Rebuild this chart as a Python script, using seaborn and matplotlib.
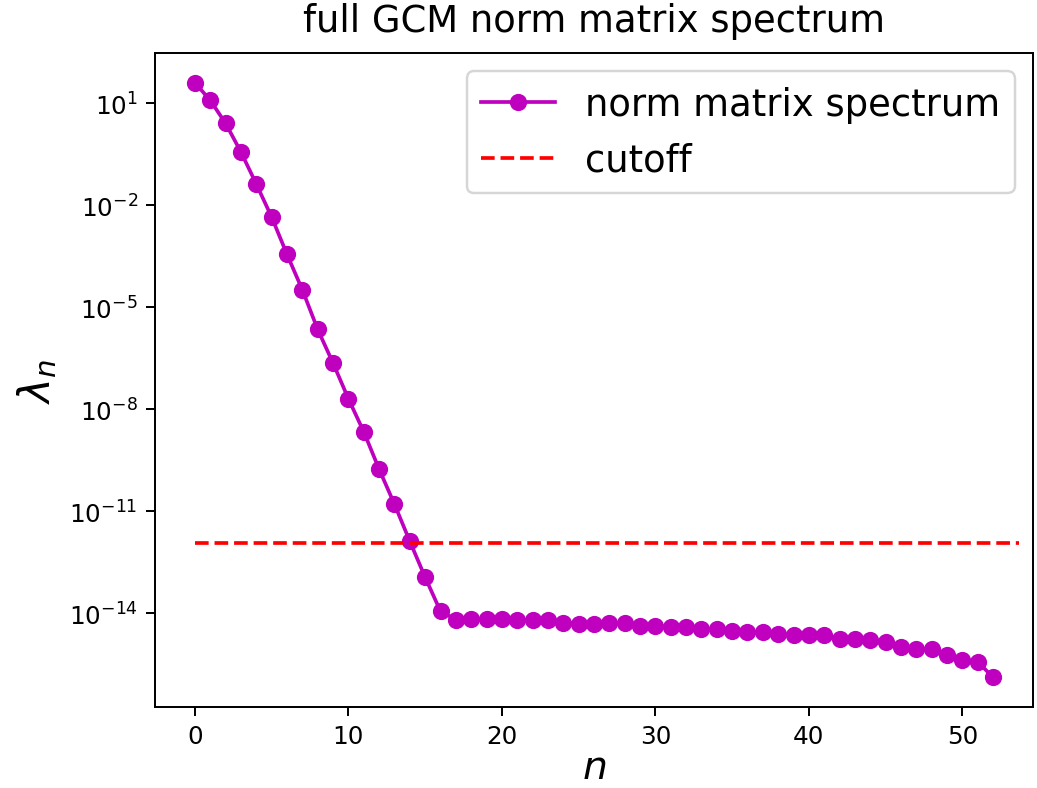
import numpy as np
import pandas as pd
import matplotlib
matplotlib.use("Agg")
import matplotlib.pyplot as plt
import matplotlib.ticker as mticker
import seaborn as sns

# log10 of eigenvalues
n_index = list(range(53))
log_lambda = [
    1.606, 1.088, 0.411, -0.433, -1.375, -2.346, -3.444, -4.485,
    -5.65, -6.64, -7.69, -8.66, -9.76, -10.79, -11.88, -12.94, -13.94,
    -14.185, -14.157, -14.157, -14.157, -14.204, -14.204, -14.204, -14.27,
    -14.317, -14.317, -14.298, -14.298, -14.364, -14.364, -14.411, -14.392,
    -14.458, -14.458, -14.505, -14.552, -14.552, -14.599, -14.646, -14.646,
    -14.627, -14.74, -14.769, -14.788, -14.835, -15.004, -15.051, -15.051,
    -15.211, -15.362, -15.428, -15.88,
]
eigenvalues = [10.0 ** v for v in log_lambda]
cutoff_x = [0, 53.7]
cutoff_y = [1.2e-12, 1.2e-12]
ytick_values = [1e1, 1e-2, 1e-5, 1e-8, 1e-11, 1e-14]

W, H, DPI = 1037, 789, 177
fig = plt.figure(figsize=(W / DPI, H / DPI), dpi=DPI)
ax = fig.add_axes([155 / W, 1 - 708 / H, 878 / W, 654 / H])

df = pd.DataFrame({"n": n_index, "lam": eigenvalues})
sns.lineplot(data=df, x="n", y="lam", ax=ax, color="m", marker="o",
             markersize=6, markeredgecolor="m", markeredgewidth=1.0,
             linewidth=1.5, label="norm matrix spectrum")
cdf = pd.DataFrame({"n": cutoff_x, "c": cutoff_y})
sns.lineplot(data=cdf, x="n", y="c", ax=ax, color="r", linestyle="--",
             linewidth=1.5, label="cutoff")

ax.set_yscale("log")
ax.set_yticks(ytick_values)
ax.yaxis.set_minor_locator(mticker.NullLocator())
ax.set_xlim(-2.6, 54.6)
ax.set_xlabel("$n$", fontsize=16, labelpad=0)
ax.set_ylabel(r"$\lambda_n$", fontsize=17)
ax.set_title("full GCM norm matrix spectrum", fontsize=15, pad=9)
ax.legend(loc="upper right", fontsize=15)

fig.savefig("out.png", dpi=DPI)
